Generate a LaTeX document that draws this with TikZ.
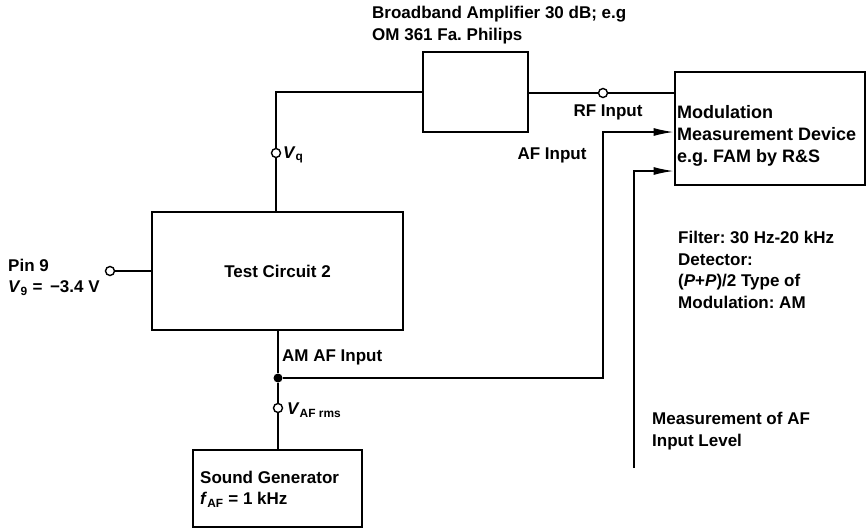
\documentclass[tikz,border=0pt]{standalone}
\usepackage{fontspec}
\setmainfont{Liberation Sans}
\usetikzlibrary{arrows.meta}

\tikzset{
  box/.style={draw, line width=2.8pt, inner sep=0pt},
  wire/.style={line width=1.5pt},
  feed/.style={wire, -{Latex[length=20pt, width=8pt]}},
  port/.style={circle, draw, line width=1.4pt, fill=white, inner sep=0pt, minimum size=9pt},
  lbl/.style={inner sep=0pt, align=left}
}

\begin{document}
\begin{tikzpicture}[x=1pt, y=-1pt, font=\fontsize{17}{21.5}\selectfont\bfseries\frenchspacing]
                        \useasboundingbox (0, 0) rectangle (868, 530);

                        % blocks
                        \node (amp) at (475.5, 92) [box, minimum width=105, minimum height=80] {};
                        \node (tc) at (277.5, 271) [box, minimum width=251, minimum height=118] {Test Circuit 2};
                        \node (mod) at (770, 128.5) [box, minimum width=190, minimum height=113] {};
                        \node (sg) at (277.5, 488.5) [box, minimum width=169, minimum height=77] {};

                        % terminals
                        \node (vq) at (276, 153) [port] {};
                        \node (rf) at (603, 93) [port] {};
                        \node (pin) at (110, 271) [port] {};
                        \node (vaf) at (278, 408) [port] {};
                        \node (dot) at (278, 378) [circle, fill, inner sep=0pt, minimum size=9pt] {};

                        \coordinate (afc) at (603, 132);
                        \coordinate (mlc) at (634, 171);
                        \coordinate (mlend) at (634, 468);

                        % texts
                        \node (amptext) at (372, 25) [lbl, anchor=west] {Broadband Amplifier 30 dB; e.g\\OM 361 Fa. Philips};
                        \node (modtext) at (677, 136) [lbl, anchor=west, font=\fontsize{18}{22}\selectfont\bfseries\frenchspacing] {Modulation\\Measurement Device\\e.g. FAM by R\&S};
                        \node (sgtext) at (200, 489) [lbl, anchor=west] {Sound Generator\\\textit{f}\textsubscript{AF} = 1 kHz};
                        \node (vqtext) at (283, 155) [lbl, anchor=west] {\textit{V}\textsubscript{q}};
                        \node (rftext) at (608, 112) [lbl] {RF Input};
                        \node (aftext) at (552, 155) [lbl] {AF Input};
                        \node (amtext) at (282, 357) [lbl, anchor=west] {AM AF Input};
                        \node (vaftext) at (287, 410) [lbl, anchor=west] {\textit{V}\textsubscript{AF rms}};
                        \node (pintext) at (8, 277) [lbl, anchor=west] {Pin 9\\\textit{V}\textsubscript{9} = \,−3.4 V};
                        \node (filtext) at (678, 270) [lbl, anchor=west] {Filter: 30 Hz-20 kHz\\Detector:\\(\textit{P}+\textit{P})/2 Type of\\Modulation: AM};
                        \node (mltext) at (652, 431) [lbl, anchor=west] {Measurement of AF\\Input Level};

                        % connections
                        \draw[wire] (tc.north -| vq) -- (vq) |- (amp.west);
                        \draw[wire] (amp.east |- rf) -- (rf) -- (rf -| mod.west);
                        \draw[wire] (pin) -- (pin -| tc.west);
                        \draw[wire] (tc.south -| dot) -- (dot) -- (vaf) -- (sg.north -| vaf);
                        \draw[feed] (dot) -| (afc) -- (afc -| mod.west);
                        \draw[feed] (mlend) -- (mlc) -- (mlc -| mod.west);
                    \end{tikzpicture}
\end{document}
